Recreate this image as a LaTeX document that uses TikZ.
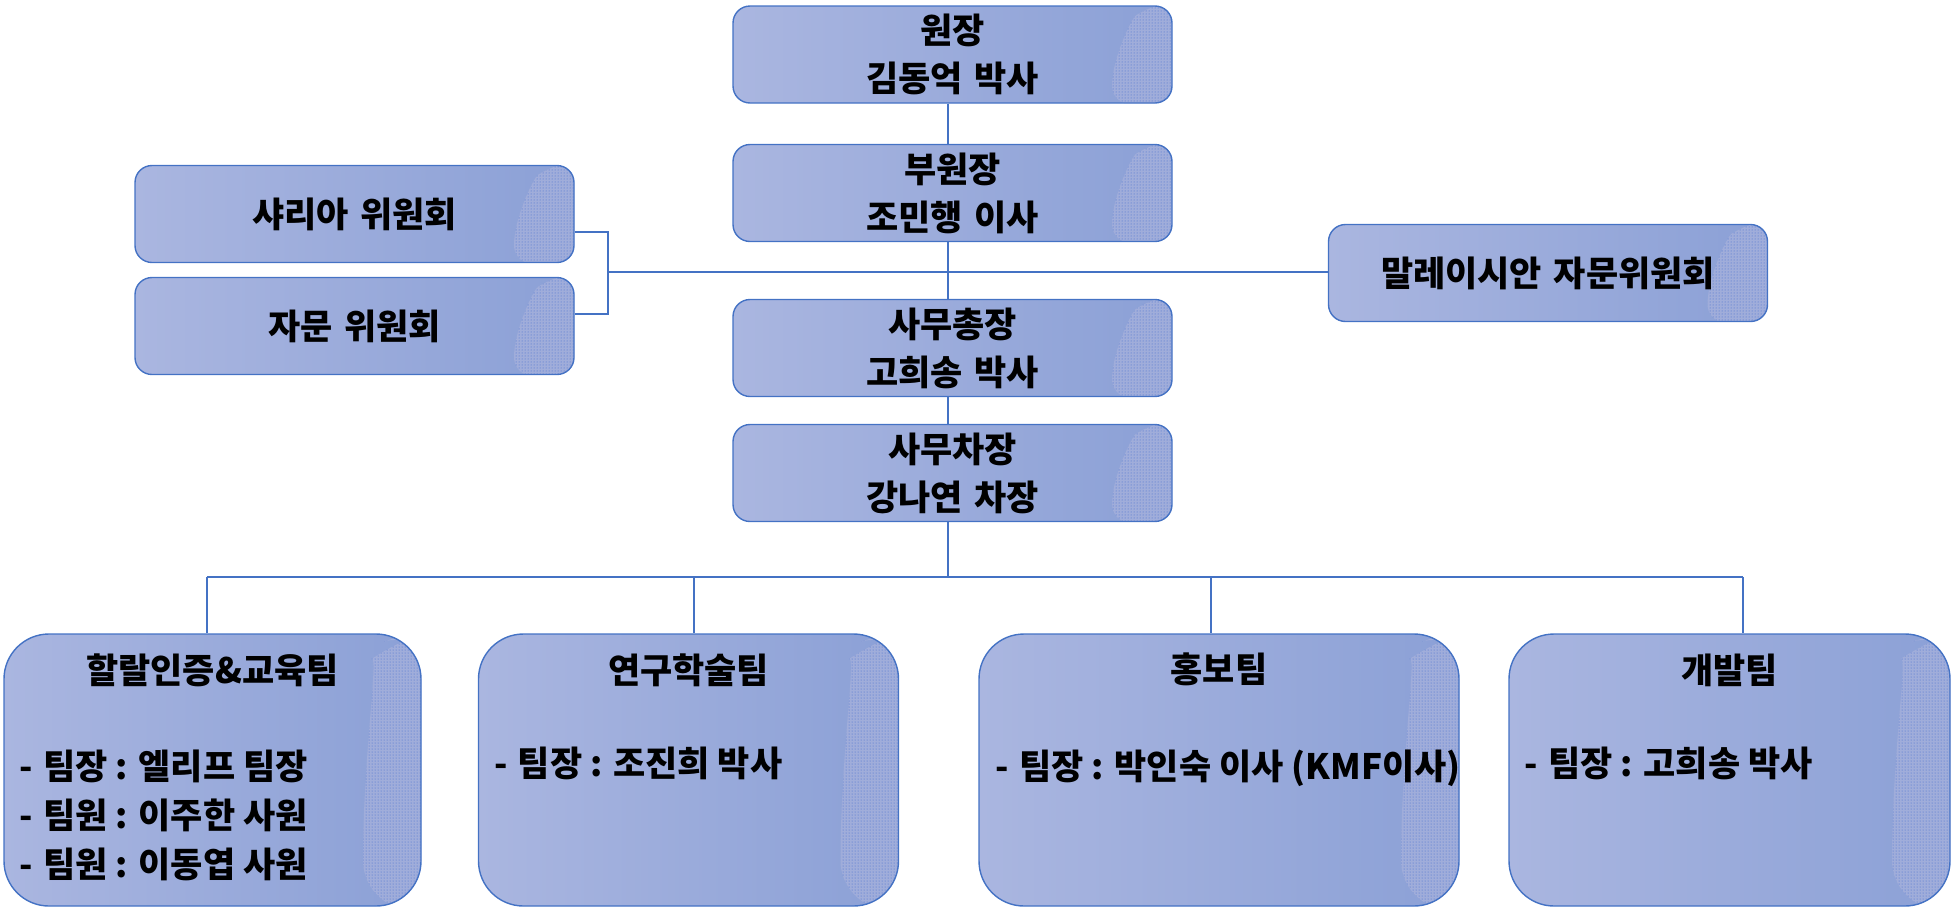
\documentclass[tikz,border=0pt]{standalone}
\usepackage{fontspec}
\setmainfont{Noto Sans CJK KR}
\usetikzlibrary{calc,patterns}
\definecolor{lineblue}{HTML}{4472C4}
\definecolor{fillL}{HTML}{AAB6E0}
\definecolor{fillR}{HTML}{8BA0D6}
\definecolor{texbg}{HTML}{A0ADDA}
\definecolor{dotc}{HTML}{3F6BD0}
\newcommand\cornertex[5]{%
  \coordinate (tNE) at (path picture bounding box.north east);
  \coordinate (tSE) at (path picture bounding box.south east);
  \fill[texbg] ($(tNE)+(-#1,0)$) .. controls ($(tNE)+(-#3,#4)$) and ($(tSE)+(-#2,-#5)$) .. ($(tSE)+(-#2,0)$) -- ($(tSE)+(5,5)$) -- ($(tNE)+(5,-5)$) -- cycle;
  \fill[pattern=dots, pattern color=dotc] ($(tNE)+(-#1,0)$) .. controls ($(tNE)+(-#3,#4)$) and ($(tSE)+(-#2,-#5)$) .. ($(tSE)+(-#2,0)$) -- ($(tSE)+(5,5)$) -- ($(tNE)+(5,-5)$) -- cycle;
}
\tikzset{
  conn/.style={draw=lineblue, line width=1.3pt},
  boxbase/.style={draw=lineblue, line width=1.4pt, left color=fillL, right color=fillR, inner sep=0pt},
  smallbox/.style={boxbase, rounded corners=17pt, minimum width=439pt, minimum height=97pt,
    text width=439pt, align=center, font=\fontsize{35}{48}\selectfont\bfseries,
    path picture={\cornertex{22}{60}{40}{12}{45}}},
  bigbox/.style={boxbase, rounded corners=45pt, minimum height=272pt,
    path picture={\cornertex{12}{58}{42}{20}{150}}},
  ttl/.style={anchor=base, inner sep=0pt, font=\fontsize{35}{48}\selectfont\bfseries},
  item/.style={anchor=base west, inner sep=0pt, font=\fontsize{35}{48}\selectfont\bfseries},
}
\newcommand\dash{-\hspace{0.3em}}
\begin{document}
\begin{tikzpicture}[x=1pt, y=-1pt]
\useasboundingbox (0,0) rectangle (1954,911);
% top column
\node[smallbox] (won) at (952.5,54.5) {원장\\김동억 박사};
\node[smallbox] (bu) at (952.5,193) {부원장\\조민행 이사};
\node[smallbox] (chong) at (952.5,348) {사무총장\\고희송 박사};
\node[smallbox] (cha) at (952.5,473) {사무차장\\강나연 차장};
% side committees
\node[smallbox] (sha) at (354.5,214) {샤리아 위원회};
\node[smallbox] (jamun) at (354.5,326) {자문 위원회};
\node[smallbox] (mal) at (1548,273) {말레이시안 자문위원회};
% teams
\node[bigbox, minimum width=417pt] (hal) at (212.5,770) {};
\node[bigbox, minimum width=420pt] (yeon) at (688.5,770) {};
\node[bigbox, minimum width=480pt] (hong) at (1219,770) {};
\node[bigbox, minimum width=441pt] (gae) at (1729.5,770) {};
% team texts
\node[ttl] (halT) at ($(hal.north)+(0,50)$) {할랄인증\&교육팀};
\node[item] (halA) at ($(hal.north west)+(16,146)$) {\dash 팀장 : 엘리프 팀장};
\node[item] (halB) at ($(hal.north west)+(16,195)$) {\dash 팀원 : 이주한 사원};
\node[item] (halC) at ($(hal.north west)+(16,244)$) {\dash 팀원 : 이동엽 사원};
\node[ttl] (yeonT) at ($(yeon.north)+(0,50)$) {연구학술팀};
\node[item] (yeonA) at ($(yeon.north west)+(16,143)$) {\dash 팀장 : 조진희 박사};
\node[ttl] (hongT) at ($(hong.north)+(0,49)$) {홍보팀};
\node[item] (hongA) at ($(hong.north west)+(17,146)$) {\dash 팀장 : 박인숙 이사 (KMF이사)};
\node[ttl] (gaeT) at ($(gae.north)+(0,50)$) {개발팀};
\node[item] (gaeA) at ($(gae.north west)+(16,143)$) {\dash 팀장 : 고희송 박사};
% trunk
\coordinate (trunkx) at (948,0);
\coordinate (busy) at (0,577);
\draw[conn] (won.south -| trunkx) -- (bu.north -| trunkx);
\draw[conn] (bu.south -| trunkx) -- (chong.north -| trunkx);
\draw[conn] (chong.south -| trunkx) -- (cha.north -| trunkx);
\draw[conn] (cha.south -| trunkx) -- (trunkx |- busy);
% bus
\coordinate (d1) at (207,577);
\coordinate (d2) at (694,577);
\coordinate (d3) at (1211,577);
\coordinate (d4) at (1743,577);
\draw[conn] (d1) -- (d4);
\draw[conn] (d1) -- (d1 |- hal.north);
\draw[conn] (d2) -- (d2 |- yeon.north);
\draw[conn] (d3) -- (d3 |- hong.north);
\draw[conn] (d4) -- (d4 |- gae.north);
% committees
\coordinate (brk) at (608,272);
\coordinate (bt) at ($(sha.east)+(0,18)$);
\coordinate (bb) at ($(jamun.east)+(0,-12)$);
\draw[conn] (bt) -| (brk) |- (bb);
\draw[conn] (brk) -- (brk -| mal.west);
\end{tikzpicture}
\end{document}
